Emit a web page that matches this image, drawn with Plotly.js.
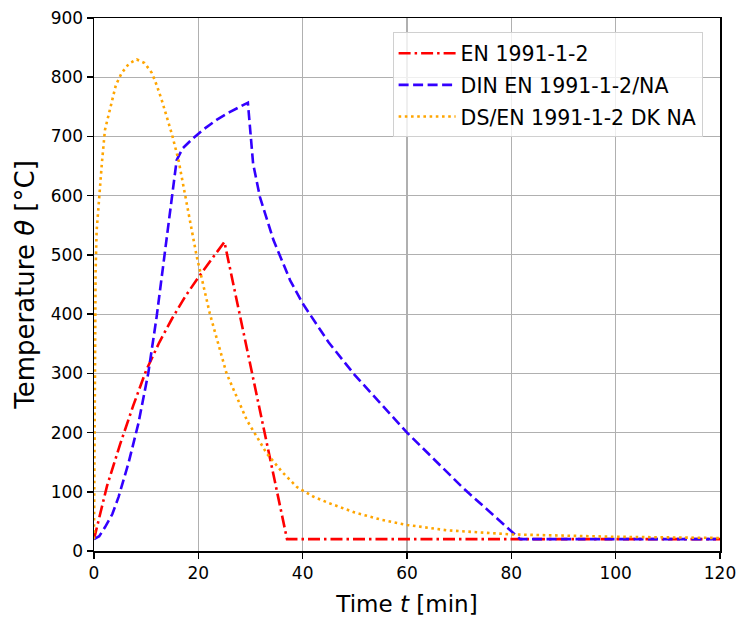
<!DOCTYPE html>
<html>
<head>
<meta charset="utf-8">
<script src="https://cdn.plot.ly/plotly-3.0.1.min.js"></script>
<style>html,body{margin:0;padding:0;background:#fff;}#chart{width:737px;height:621px;}</style>
</head>
<body>
<div id="chart"></div>
<script>
// EN 1991-1-2
const enTime = [0, 1, 2.5, 5, 7.5, 10, 12.5, 15, 17.5, 20, 22.5, 25, 37, 120];
const enTemp = [20, 57, 110, 180, 245, 305, 352, 393, 430, 462, 492, 522, 20, 20];

// DIN EN 1991-1-2/NA
const dinTime = [0, 1, 2.1, 3.5, 4.7, 6.6, 8.5, 10.4, 12, 13.6, 15.85, 17, 19, 21, 23.5, 26, 29.5,
                 30.5, 31.8, 34.4, 37.6, 40, 45, 50, 55, 60, 70.8, 81.7, 120];
const dinTemp = [20, 25, 40, 62, 91, 148, 215, 300, 395, 502, 660, 680, 697, 712, 728, 741, 757,
                 654, 598, 525, 457, 418, 352, 297, 248, 200, 106, 20, 20];

// DS/EN 1991-1-2 DK NA
const dkTime = [0, 0.1, 0.3, 0.5, 0.83, 1.5, 2.1, 3.4, 4.2, 5.3, 6.7, 8.2, 9.7, 11.1, 12, 13, 14.9, 16.2, 17.5, 19.7,
                22.2, 25.4, 29.3, 33.1, 36, 38.9, 42, 45, 50, 55, 60, 67.6, 80, 100, 120];
const dkTemp = [20, 250, 470, 540, 581, 654, 711, 761, 787, 807, 823, 830, 824, 807, 787, 761, 705, 660, 600, 497,
                401, 300, 221, 165, 134, 108, 92, 81, 65, 53, 44, 35, 28, 24, 22];

const seriesNames = ['EN 1991-1-2', 'DIN EN 1991-1-2/NA', 'DS/EN 1991-1-2 DK NA'];
const xTicks = [0, 20, 40, 60, 80, 100, 120];
const yTicks = [0, 100, 200, 300, 400, 500, 600, 700, 800, 900];

const traces = [
  {x: enTime, y: enTemp, name: seriesNames[0], mode: 'lines', legendgroup: 'a',
   line: {color: '#ff0000', width: 2.6, dash: '12px,4px,2.5px,4px'}},
  {x: dinTime, y: dinTemp, name: seriesNames[1], mode: 'lines', legendgroup: 'b',
   line: {color: '#3300ff', width: 2.6, dash: '10px,4.5px'}},
  {x: dkTime, y: dkTemp, name: seriesNames[2], mode: 'lines', legendgroup: 'c',
   line: {color: '#ffa500', width: 2.6, dash: '2.6px,3.6px'}}
];

const fontFam = 'DejaVu Sans, sans-serif';
const layout = {
  width: 737, height: 621,
  margin: {l: 94, r: 17, t: 18, b: 70},
  paper_bgcolor: '#fff', plot_bgcolor: '#fff',
  font: {family: fontFam, color: '#000', size: 17},
  showlegend: true,
  legend: {
    x: 0.477, y: 0.973, xanchor: 'left', yanchor: 'top',
    bgcolor: 'rgba(255,255,255,0.8)', bordercolor: '#d0d0d0', borderwidth: 1,
    font: {family: fontFam, size: 20.5, color: '#000'},
    itemwidth: 57, traceorder: 'grouped', tracegroupgap: 2
  },
  xaxis: {
    range: [0, 120], tickvals: xTicks, ticktext: xTicks.map(String),
    showgrid: true, gridcolor: '#b0b0b0', gridwidth: 1.2,
    showline: true, linecolor: '#000', linewidth: 1.5, mirror: true,
    ticks: 'outside', ticklen: 6, tickcolor: '#000', tickwidth: 1.5,
    zeroline: false,
    tickfont: {family: fontFam, size: 17, color: '#000'},
    title: {text: 'Time <i>t</i> [min]', font: {family: fontFam, size: 23, color: '#000'}, standoff: 14}
  },
  yaxis: {
    range: [0, 900], tickvals: yTicks, ticktext: yTicks.map(String),
    showgrid: true, gridcolor: '#b0b0b0', gridwidth: 1.2,
    showline: true, linecolor: '#000', linewidth: 1.5, mirror: true,
    ticks: 'outside', ticklen: 6, tickcolor: '#000', tickwidth: 1.5,
    zeroline: false,
    tickfont: {family: fontFam, size: 17, color: '#000'},
    title: {text: 'Temperature <i>θ</i> [°C]', font: {family: fontFam, size: 26, color: '#000'}, standoff: 8}
  }
};

Plotly.newPlot('chart', traces, layout, {displayModeBar: false, staticPlot: true});
</script>
</body>
</html>
